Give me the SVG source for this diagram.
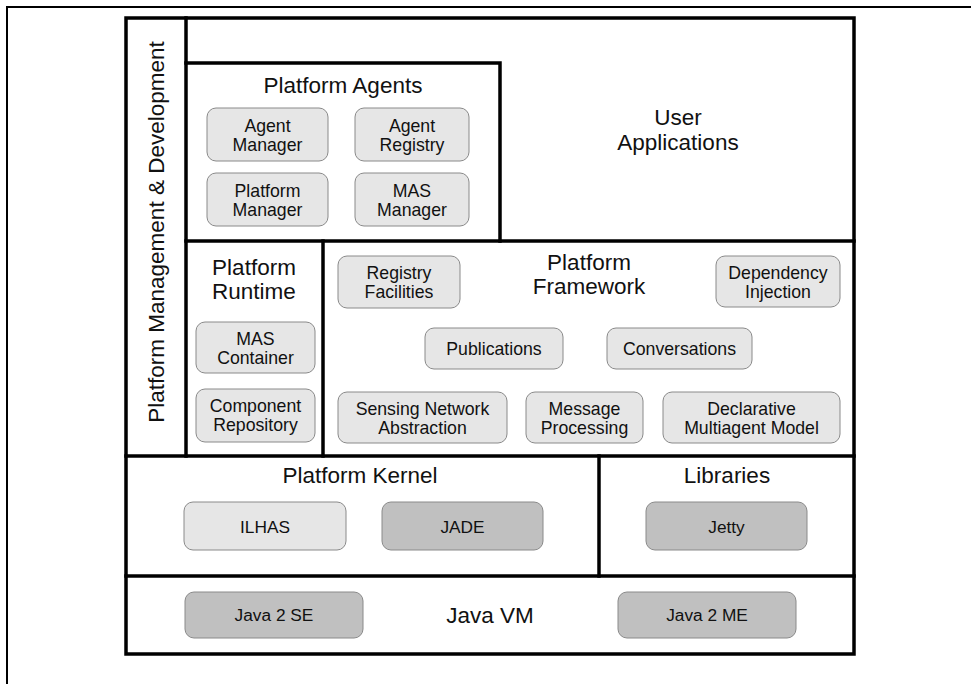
<svg xmlns="http://www.w3.org/2000/svg" width="971" height="684" viewBox="0 0 971 684">
<style>
.frame{fill:none;stroke:#000;stroke-width:2}
.line{fill:none;stroke:#000;stroke-width:3.5;stroke-linecap:square}
.box{fill:#e6e6e6;stroke:#8a8a8a;stroke-width:1}
.dark{fill:#c0c0c0;stroke:#8a8a8a;stroke-width:1}
text{font-family:"Liberation Sans",Arial,sans-serif;fill:#111;text-anchor:middle}
.t{font-size:22.5px}
.b{font-size:17.7px}
.s{font-size:17.3px}
</style>
<rect x="0" y="0" width="971" height="684" fill="#fff"/>
<rect class="frame" x="7" y="7" width="1000" height="1000"/>
<g id="structure">
<rect class="line" x="126" y="18" width="728" height="636"/>
<line class="line" x1="186" y1="18" x2="186" y2="456"/>
<polyline class="line" points="186,63 500,63 500,241"/>
<line class="line" x1="186" y1="241" x2="854" y2="241"/>
<line class="line" x1="323" y1="241" x2="323" y2="456"/>
<line class="line" x1="126" y1="456" x2="854" y2="456"/>
<line class="line" x1="599" y1="456" x2="599" y2="576"/>
<line class="line" x1="126" y1="576" x2="854" y2="576"/>
</g>
<g id="mgmt"><text class="t" transform="translate(164,232) rotate(-90)">Platform Management &amp; Development</text></g>
<g id="user-apps"><text class="t" x="678" y="125">User</text><text class="t" x="678" y="150">Applications</text></g>
<g id="platform-agents"><text class="t" x="343" y="93">Platform Agents</text></g>
<g id="agent-manager"><rect class="box" x="207" y="108" width="121" height="53" rx="9"/><text class="b" x="267.5" y="132">Agent</text><text class="b" x="267.5" y="151">Manager</text></g>
<g id="agent-registry"><rect class="box" x="355" y="108" width="114" height="53" rx="9"/><text class="b" x="412" y="132">Agent</text><text class="b" x="412" y="151">Registry</text></g>
<g id="platform-manager"><rect class="box" x="207" y="173" width="121" height="53" rx="9"/><text class="b" x="267.5" y="197">Platform</text><text class="b" x="267.5" y="216">Manager</text></g>
<g id="mas-manager"><rect class="box" x="355" y="173" width="114" height="53" rx="9"/><text class="b" x="412" y="197">MAS</text><text class="b" x="412" y="216">Manager</text></g>
<g id="platform-runtime"><text class="t" x="254" y="275">Platform</text><text class="t" x="254" y="299">Runtime</text></g>
<g id="mas-container"><rect class="box" x="196" y="322" width="119" height="51" rx="9"/><text class="b" x="255.5" y="345">MAS</text><text class="b" x="255.5" y="364">Container</text></g>
<g id="component-repository"><rect class="box" x="196" y="389" width="119" height="53" rx="9"/><text class="b" x="255.5" y="412">Component</text><text class="b" x="255.5" y="431">Repository</text></g>
<g id="platform-framework"><text class="t" x="589" y="270">Platform</text><text class="t" x="589" y="294">Framework</text></g>
<g id="registry-facilities"><rect class="box" x="338" y="256" width="122" height="52" rx="9"/><text class="b" x="399" y="279">Registry</text><text class="b" x="399" y="298">Facilities</text></g>
<g id="dependency-injection"><rect class="box" x="716" y="256" width="124" height="51" rx="9"/><text class="b" x="778" y="279">Dependency</text><text class="b" x="778" y="298">Injection</text></g>
<g id="publications"><rect class="box" x="425" y="328" width="138" height="41" rx="9"/><text class="b" x="494" y="355">Publications</text></g>
<g id="conversations"><rect class="box" x="607" y="328" width="145" height="41" rx="9"/><text class="b" x="679.5" y="355">Conversations</text></g>
<g id="sensing-network"><rect class="box" x="338" y="392" width="169" height="51" rx="9"/><text class="b" x="422.5" y="415">Sensing Network</text><text class="b" x="422.5" y="434">Abstraction</text></g>
<g id="message-processing"><rect class="box" x="526" y="392" width="117" height="51" rx="9"/><text class="b" x="584.5" y="415">Message</text><text class="b" x="584.5" y="434">Processing</text></g>
<g id="declarative-model"><rect class="box" x="663" y="392" width="177" height="51" rx="9"/><text class="b" x="751.5" y="415">Declarative</text><text class="b" x="751.5" y="434">Multiagent Model</text></g>
<g id="platform-kernel"><text class="t" x="360" y="483">Platform Kernel</text></g>
<g id="ilhas"><rect class="box" x="184" y="502" width="162" height="48" rx="9"/><text class="s" x="265" y="533">ILHAS</text></g>
<g id="jade"><rect class="dark" x="382" y="502" width="161" height="48" rx="9"/><text class="s" x="462.5" y="533">JADE</text></g>
<g id="libraries"><text class="t" x="727" y="483">Libraries</text></g>
<g id="jetty"><rect class="dark" x="646" y="502" width="161" height="48" rx="9"/><text class="s" x="726.5" y="533">Jetty</text></g>
<g id="java-vm"><text class="t" x="490" y="623">Java VM</text></g>
<g id="java2se"><rect class="dark" x="185" y="592" width="178" height="46" rx="9"/><text class="s" x="274" y="621">Java 2 SE</text></g>
<g id="java2me"><rect class="dark" x="618" y="592" width="178" height="46" rx="9"/><text class="s" x="707" y="621">Java 2 ME</text></g>
<g id="connectors"></g>
</svg>
